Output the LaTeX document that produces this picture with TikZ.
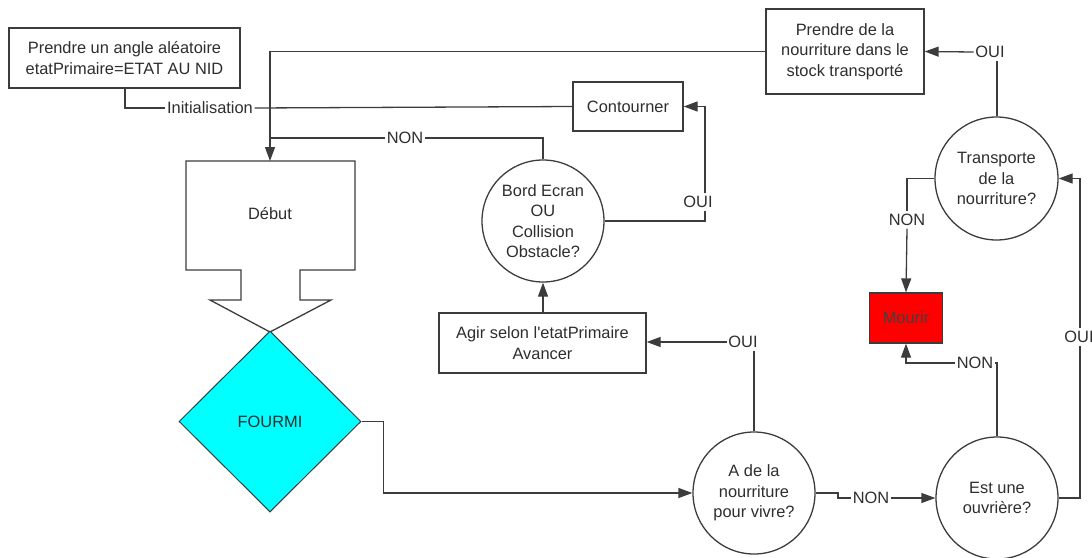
\documentclass[tikz,border=0pt]{standalone}
\usepackage{fontspec}
\setmainfont{Liberation Sans}
% plain family without TeX quote mapping, for the straight apostrophe
\newfontfamily\rawsans{Liberation Sans}
\usetikzlibrary{arrows.meta,shapes.geometric}
\definecolor{ink}{HTML}{3C3C3C}
\definecolor{txt}{HTML}{2E2E2E}
\definecolor{antcyan}{HTML}{00FFFF}
\definecolor{dead}{HTML}{FF0000}
\begin{document}
\begin{tikzpicture}[x=1pt,y=-1pt,
  font=\fontsize{16.4}{20.4}\selectfont,
  every node/.style={text=txt},
  line/.style={draw=ink,line width=1.3pt},
  arr/.style={line,-{Triangle[length=14pt,width=10pt]}},
  box/.style={line,fill=white,rectangle,align=center,inner sep=0pt},
  test/.style={line,fill=white,circle,align=center,inner sep=0pt,minimum size=122pt},
  lbl/.style={inner sep=1.5pt,text height=12pt,text depth=2pt}]
\useasboundingbox (0,0) rectangle (1092,557);

% process boxes
\node[box,minimum width=231pt,minimum height=60pt] (init) at (124.5,58)
  {Prendre un angle aléatoire\\etatPrimaire=ETAT AU NID};
\node[box,minimum width=158pt,minimum height=85pt] (prendre) at (845,51.5)
  {Prendre de la\\nourriture dans le\\stock transporté};
\node[box,minimum width=110pt,minimum height=49pt] (contourner) at (628,106.5) {Contourner};
\node[box,minimum width=207pt,minimum height=60pt] (agir) at (542.5,343)
  {Agir selon l{\rawsans'}etatPrimaire\\Avancer};
\node[box,fill=dead,minimum width=73pt,minimum height=50pt,text=black!75] (mourir) at (906,318) {Mourir};

% decisions
\node[test] (bord) at (543,221) {Bord Ecran\\OU\\Collision\\Obstacle?};
\node[test,minimum size=123pt] (transp) at (996.5,178.5) {Transporte\\de la\\nourriture?};
\node[test] (avivre) at (754,493) {A de la\\nourriture\\pour vivre?};
\node[test] (ouvr) at (997,498) {Est une\\ouvrière?};

% start block: box with an arrow-shaped outlet
\draw[line,fill=white] (186,161) -- (355,161) -- (355,270) -- (300,270) -- (300,300)
  -- (331,300) -- (270,332) -- (210,300) -- (241,300) -- (241,270) -- (186,270) -- cycle;
\node (debut) at (270,214) {Début};
\coordinate (debuttop) at (270,161);

% the ant
\node[diamond,aspect=1,draw=ink,line width=1pt,fill=antcyan,inner sep=0pt,
  minimum width=182pt,minimum height=181pt] (fourmi) at (270,421.5) {FOURMI};

% branch labels
\node[lbl] (initlbl) at (210,108) {Initialisation};
\node[lbl] (non1) at (405,138) {NON};
\node[lbl] (oui1) at (698,202) {OUI};
\node[lbl] (oui2) at (743,342) {OUI};
\node[lbl] (non2) at (871,498) {NON};
\node[lbl] (non3) at (975,363) {NON};
\node[lbl] (non4) at (907,220) {NON};
\node[lbl] (oui3) at (990,52) {OUI};
\node[lbl] (oui4) at (1079,337) {OUI};

\coordinate (j2) at (270,138);

% connectors
\draw[line] (init.south -| 125,0) |- (initlbl.west);
\draw[line] (initlbl.east) -- (contourner.west);
\draw[arr] (prendre.west) -| (debuttop);
\draw[line] (bord.north) |- (non1.east);
\draw[line] (non1.west) -- (j2);
\draw[line] (bord.east) -| (oui1.south -| 705,0);
\draw[arr] (oui1.north -| 705,0) |- (contourner.east);
\draw[arr] (agir.north -| bord.south) -- (bord.south);
\draw[line] (avivre.north) -- (avivre.north |- oui2.south);
\draw[arr] (oui2.west) -- (agir.east |- oui2.west);
\draw[arr] (fourmi.east) -- ++(22,0) |- (avivre.west);
\draw[line] (avivre.east) -- (838,493) -- (838,498) -- (non2.west);
\draw[arr] (non2.east) -- (ouvr.west);
\draw[line] (ouvr.north) |- (non3.east);
\draw[arr] (non3.west) -| (mourir.south);
\draw[line] (transp.west) -| (non4.north);
\draw[arr] (non4.south) -- (mourir.north);
\draw[line] (ouvr.east) -| (1080,0 |- oui4.south);
\draw[arr] (1080,0 |- oui4.north) |- (transp.east);
\draw[line] (transp.north -| 997,0) -- (997,0 |- oui3.south);
\draw[arr] (oui3.west) -- (prendre.east);
\end{tikzpicture}
\end{document}
